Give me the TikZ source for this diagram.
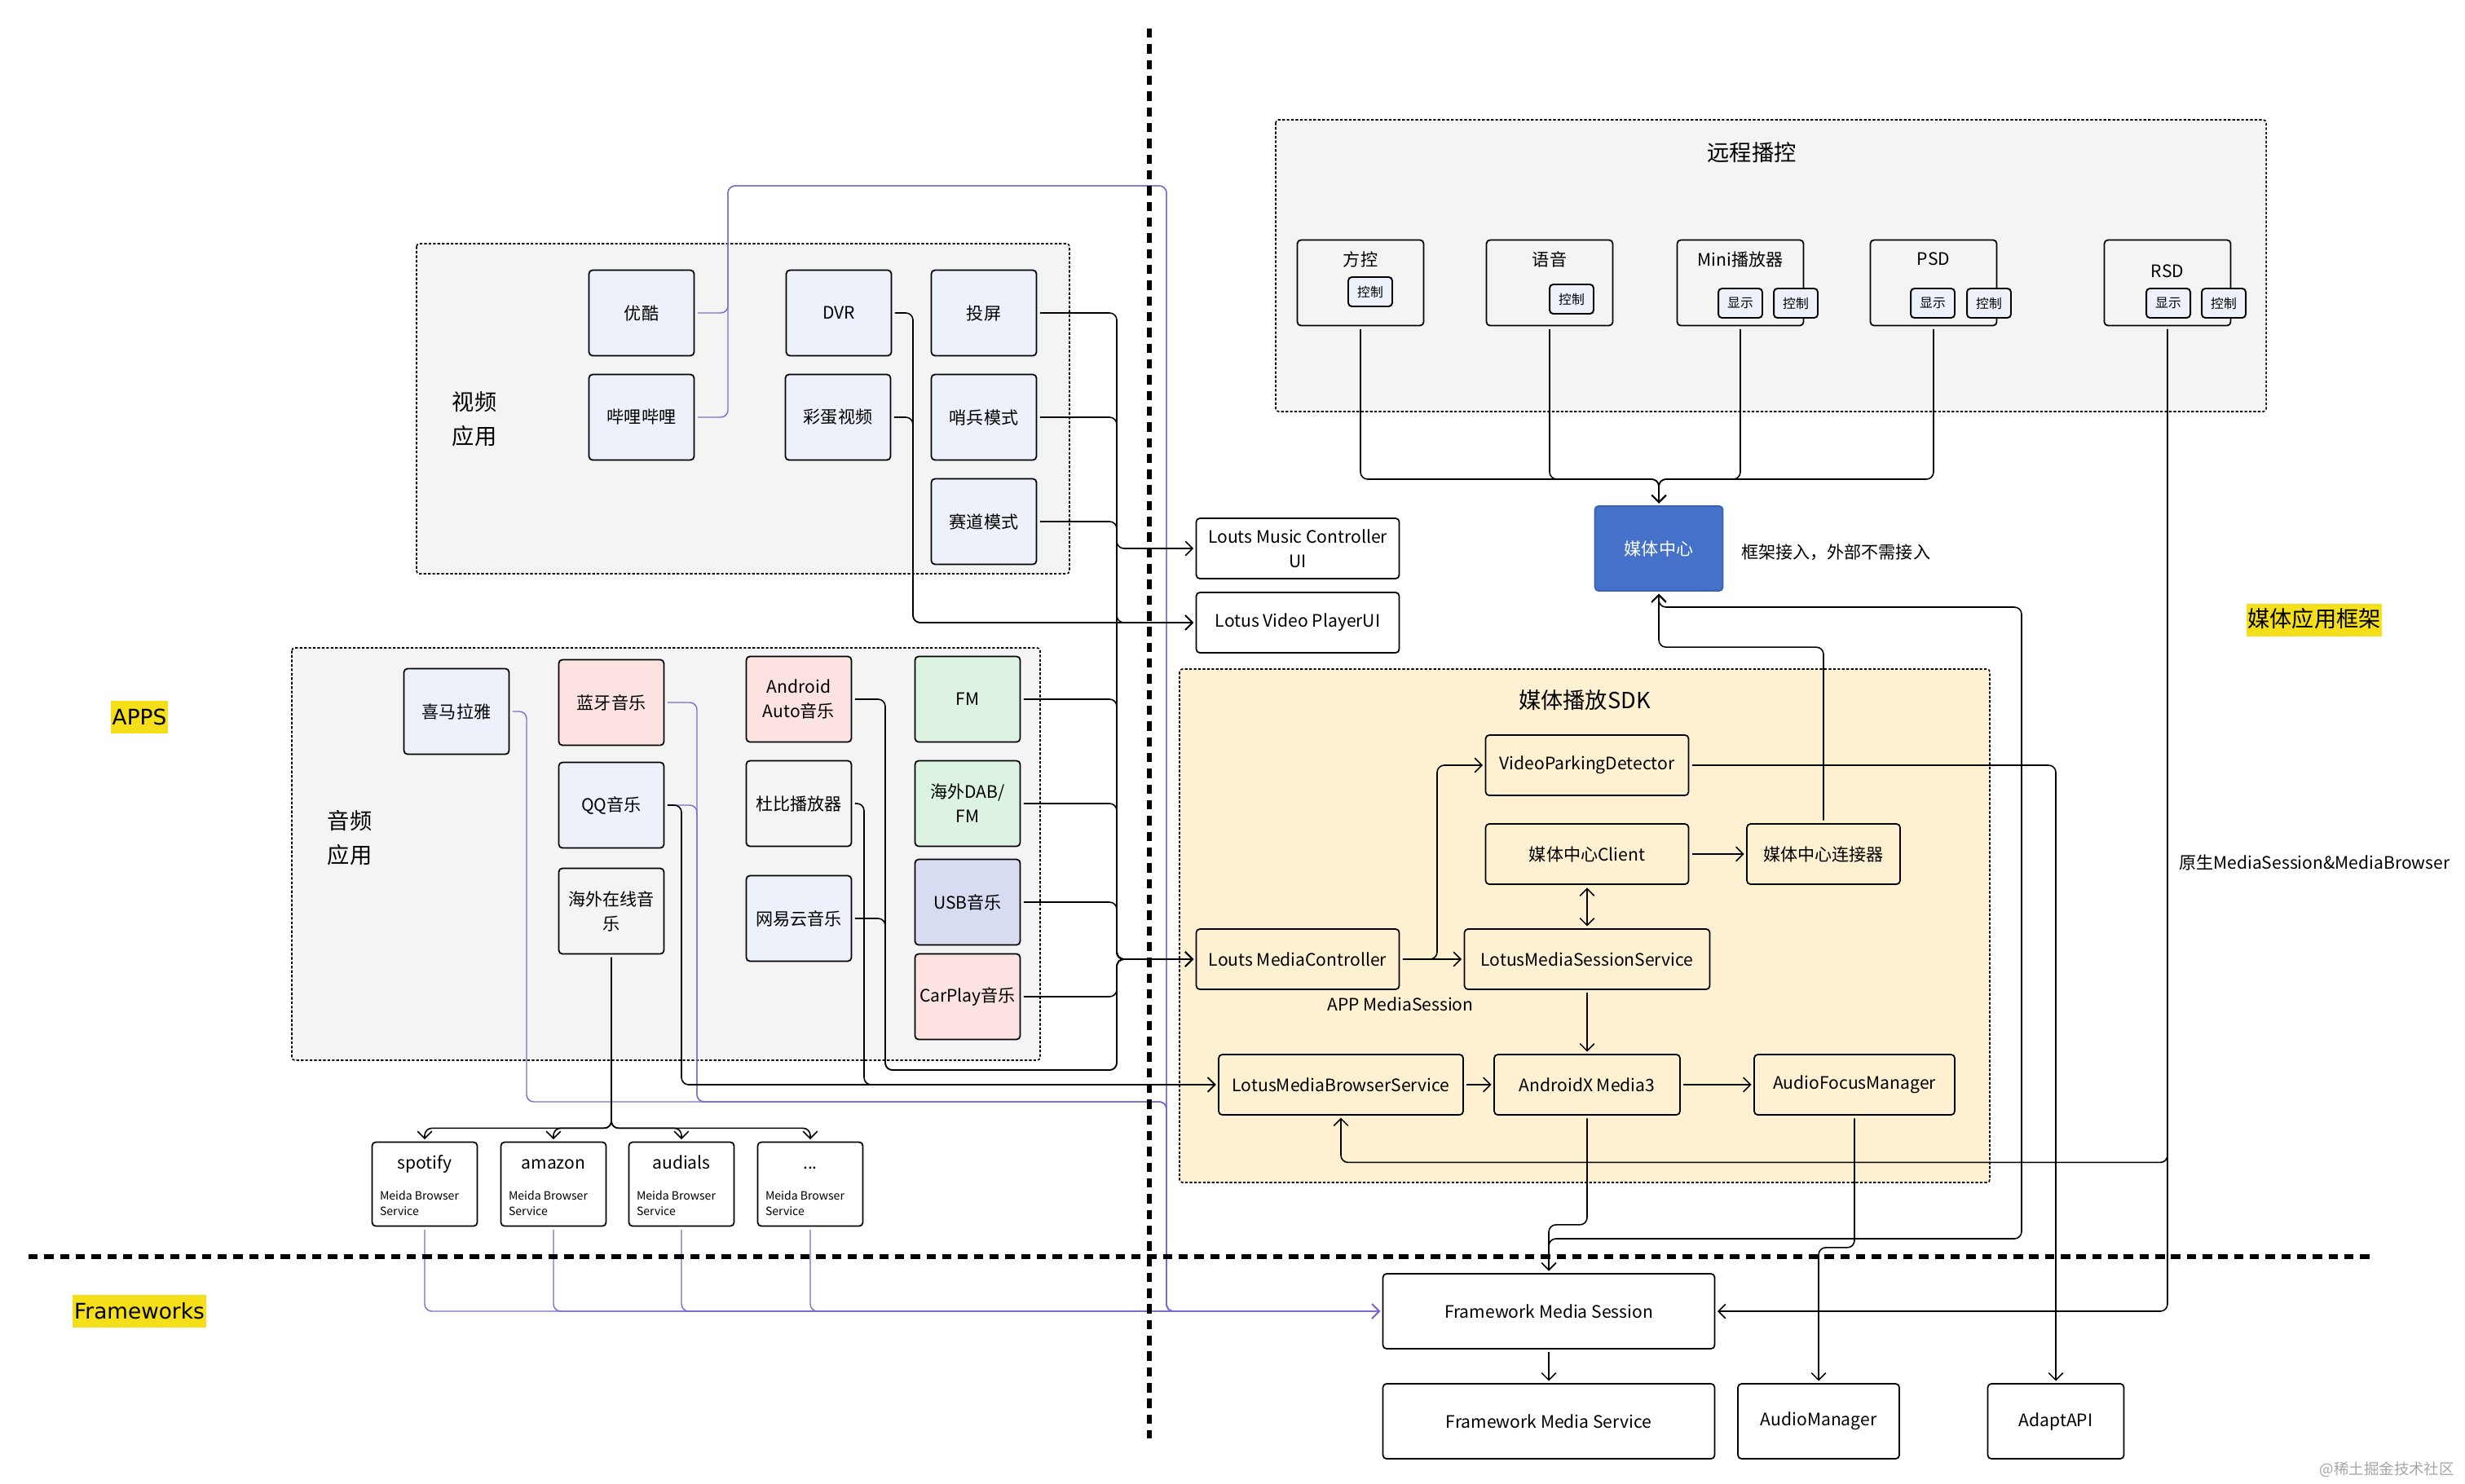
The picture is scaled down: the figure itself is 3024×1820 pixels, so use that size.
\documentclass[tikz,border=0pt]{standalone}
\usepackage{fontspec}
\setmainfont{Noto Sans CJK SC}
\newfontfamily\latinfont{DejaVu Sans}
\usepackage{xcolor}
\usetikzlibrary{arrows.meta}

\definecolor{groupgray}{RGB}{244,244,244}
\definecolor{sdkyellow}{RGB}{253,241,209}
\definecolor{appblue}{RGB}{237,241,250}
\definecolor{apppink}{RGB}{253,226,226}
\definecolor{appgreen}{RGB}{221,243,225}
\definecolor{applilac}{RGB}{215,220,242}
\definecolor{hubblue}{RGB}{69,114,200}
\definecolor{linkpurple}{RGB}{124,106,206}
\definecolor{markyellow}{RGB}{244,223,24}

\newcommand{\svclabel}[1]{\parbox{2.2cm}{\centering\strut #1\par\vspace{9pt}\raggedright\fontsize{8}{11}\selectfont Meida Browser\\Service\par}}

\tikzset{
  >={Straight Barb[length=5pt,width=10pt]},
  box/.style={draw, line width=1pt, rounded corners=2.5pt, inner sep=0pt, align=center,
    font=\fontsize{12}{17}\selectfont},
  appbox/.style={box, minimum width=2.58cm, minimum height=2.1cm},
  rembox/.style={box, fill=groupgray, minimum width=3.1cm, minimum height=2.1cm},
  keybox/.style={box, fill=appblue, line width=1.1pt, minimum width=1.08cm,
    minimum height=0.72cm, font=\fontsize{9}{11}\selectfont},
  svcbox/.style={box, fill=white, minimum width=2.58cm, minimum height=2.06cm},
  uibox/.style={box, fill=white, minimum width=4.98cm, minimum height=1.48cm},
  sdkbox/.style={box, minimum height=1.48cm},
  fwbox/.style={box, fill=white, minimum height=1.84cm},
  hubbox/.style={box, draw=hubblue!85!black, fill=hubblue, text=white,
    minimum width=3.14cm, minimum height=2.08cm},
  group/.style={draw, line width=0.9pt, dash pattern=on 1.8pt off 1.3pt, rounded corners=2pt},
  grouptitle/.style={align=center, font=\fontsize{15.5}{24}\selectfont},
  note/.style={font=\fontsize{12}{17}\selectfont},
  marker/.style={fill=markyellow, inner xsep=1pt, inner ysep=5.5pt, text height=11.5pt,
    text depth=0.5pt, font=\latinfont\fontsize{15}{18}\selectfont},
  wire/.style={->, line width=0.9pt, rounded corners=5pt, shorten >=1.5pt, shorten <=2pt},
  pwire/.style={wire, draw=linkpurple, line width=0.8pt},
  divider/.style={line width=3.4pt, dash pattern=on 6.5pt off 4.5pt}
}

\begin{document}
\begin{tikzpicture}[x=0.02cm, y=-0.02cm]
    \useasboundingbox (0,0) rectangle (3024,1820);
    \fill [white] (0,0) rectangle (3024,1820);

    \draw [group, fill=groupgray] (511,299) rectangle (1312,704);
    \draw [group, fill=groupgray] (358,795) rectangle (1276,1301);
    \draw [group, fill=groupgray] (1565,147) rectangle (2780,505);
    \draw [group, fill=sdkyellow] (1447,821) rectangle (2441,1451);

    \path (582,514) node [grouptitle] (videot) {视频\\应用};
    \path (429,1028) node [grouptitle] (audiot) {音频\\应用};
    \path (2149,187) node [grouptitle] (remotet) {远程播控};
    \path (1944,859) node [grouptitle] (sdkt) {媒体播放SDK};

    \path (787,384) node [appbox, fill=appblue] (yk) {优酷};
    \path (787,512) node [appbox, fill=appblue] (bz) {哔哩哔哩};
    \path (1029,384) node [appbox, fill=appblue] (dvr) {DVR};
    \path (1028,512) node [appbox, fill=appblue] (cd) {彩蛋视频};
    \path (1207,384) node [appbox, fill=appblue] (tp) {投屏};
    \path (1207,512) node [appbox, fill=appblue] (sb) {哨兵模式};
    \path (1207,640) node [appbox, fill=appblue] (sd) {赛道模式};

    \path (560,873) node [appbox, fill=appblue] (xm) {喜马拉雅};
    \path (750,862) node [appbox, fill=apppink] (ly) {蓝牙音乐};
    \path (750,988) node [appbox, fill=appblue] (qq) {QQ音乐};
    \path (750,1118) node [appbox] (hw) {海外在线音\\乐};
    \path (980,858) node [appbox, fill=apppink] (aa) {Android\\Auto音乐};
    \path (980,986) node [appbox] (db) {杜比播放器};
    \path (980,1127) node [appbox, fill=appblue] (wy) {网易云音乐};
    \path (1187,858) node [appbox, fill=appgreen] (fm) {FM};
    \path (1187,986) node [appbox, fill=appgreen] (dab) {海外DAB/\\FM};
    \path (1187,1107) node [appbox, fill=applilac] (usb) {USB音乐};
    \path (1187,1223) node [appbox, fill=apppink] (cp) {CarPlay音乐};

    \path (521,1453) node [svcbox] (spo) {\svclabel{spotify}};
    \path (679,1453) node [svcbox] (amz) {\svclabel{amazon}};
    \path (836,1453) node [svcbox] (aud) {\svclabel{audials}};
    \path (994,1453) node [svcbox] (etc) {\svclabel{...}};

    \path (1669,347) node [rembox] (fk) {};
    \path (1669,318) node [note] (fkt) {方控};
    \path (1681,358) node [keybox] (fkc) {控制};
    \path (1901,347) node [rembox] (yy) {};
    \path (1901,318) node [note] (yyt) {语音};
    \path (1928,367) node [keybox] (yyc) {控制};
    \path (2135,347) node [rembox] (mini) {};
    \path (2135,318) node [note] (minit) {Mini播放器};
    \path (2135,372) node [keybox] (minis) {显示};
    \path (2203,372) node [keybox] (minic) {控制};
    \path (2372,347) node [rembox] (psd) {};
    \path (2372,318) node [note] (psdt) {PSD};
    \path (2371,372) node [keybox] (psds) {显示};
    \path (2440,372) node [keybox] (psdc) {控制};
    \path (2659,347) node [rembox] (rsd) {};
    \path (2659,333) node [note] (rsdt) {RSD};
    \path (2660,372) node [keybox] (rsds) {显示};
    \path (2728,372) node [keybox] (rsdc) {控制};

    \path (1592,673) node [uibox] (mcui) {Louts Music Controller\\UI};
    \path (1592,764) node [uibox] (vpui) {Lotus Video PlayerUI};
    \path (2035,673) node [hubbox] (mc) {媒体中心};
    \path (2130,678) node [note, anchor=west] (mcnote) {框架接入，外部不需接入};

    \path (1947,939) node [sdkbox, minimum width=4.98cm] (vpd) {VideoParkingDetector};
    \path (1947,1048) node [sdkbox, minimum width=4.98cm] (mcl) {媒体中心Client};
    \path (2237,1048) node [sdkbox, minimum width=3.76cm] (mcc) {媒体中心连接器};
    \path (1592,1177) node [sdkbox, minimum width=4.98cm] (lmc) {Louts MediaController};
    \path (1947,1177) node [sdkbox, minimum width=6.02cm] (lmss) {LotusMediaSessionService};
    \path (1718,1232) node [note] (appms) {APP MediaSession};
    \path (1645,1331) node [sdkbox, minimum width=6cm] (lmbs) {LotusMediaBrowserService};
    \path (1947,1331) node [sdkbox, minimum width=4.56cm] (m3) {AndroidX Media3};
    \path (2275,1331) node [sdkbox, minimum width=4.92cm] (afm) {AudioFocusManager};

    \path (1900,1609) node [fwbox, minimum width=8.14cm] (fms) {Framework Media Session};
    \path (1900,1744) node [fwbox, minimum width=8.14cm] (fmsvc) {Framework Media Service};
    \path (2231,1744) node [fwbox, minimum width=3.96cm] (amgr) {AudioManager};
    \path (2522,1744) node [fwbox, minimum width=3.34cm] (adapt) {AdaptAPI};

    \path (171,880) node [marker] (apps) {APPS};
    \path (171,1609) node [marker] (fwk) {Frameworks};
    \path (2839,761) node [marker, text height=12.5pt, text depth=2.5pt, inner ysep=4pt,
        font=\fontsize{15.5}{18}\selectfont] (frame) {媒体应用框架};
    \path (2667,1058) node [note, anchor=west] (native) {原生MediaSession\&MediaBrowser};
    \path (3017,1803) node [anchor=east, text=black!35, font=\fontsize{10.5}{12}\selectfont] (jj) {@稀土掘金技术社区};

    \coordinate (bus) at (1370,600);

    \draw [pwire] (yk.east) -| (893,228) -| (1431,1609) -- (fms.west);
    \draw [pwire] (bz.east) -| (893,228) -| (1431,1609) -- (fms.west);
    \draw [pwire] (xm.east) -| (646,1352) -| (1431,1609) -- (fms.west);
    \draw [pwire] (ly.east) -| (855,1352) -| (1431,1609) -- (fms.west);
    \draw [pwire] (qq.east) -| (855,1352) -| (1431,1609) -- (fms.west);
    \draw [pwire] (spo.south) |- (fms.west);
    \draw [pwire] (amz.south) |- (fms.west);
    \draw [pwire] (aud.south) |- (fms.west);
    \draw [pwire] (etc.south) |- (fms.west);

    \draw [wire] (tp.east) -| (1370,1177) -- (lmc.west);
    \draw [wire] (sb.east) -| (1370,1177) -- (lmc.west);
    \draw [wire] (sd.east) -| (1370,1177) -- (lmc.west);
    \draw [wire] (bus) |- (mcui.west);
    \draw [wire] (bus) |- (vpui.west);
    \draw [wire] (dvr.east) -| (1120,764) -- (vpui.west);
    \draw [wire] (cd.east) -| (1120,764) -- (vpui.west);
    \draw [wire] (fm.east) -| (1370,1177) -- (lmc.west);
    \draw [wire] (dab.east) -| (1370,1177) -- (lmc.west);
    \draw [wire] (usb.east) -| (1370,1177) -- (lmc.west);
    \draw [wire] (cp.east) -| (1370,1177) -- (lmc.west);
    \draw [wire] (aa.east) -| (1086,1313) -| (1370,1177) -- (lmc.west);
    \draw [wire] (wy.east) -| (1086,1313) -| (1370,1177) -- (lmc.west);
    \draw [wire] (db.east) -| (1060,1331) -- (lmbs.west);
    \draw [wire] (qq.east) -| (836,1331) -- (lmbs.west);
    \draw [wire] (hw.south) -- ++(0,213) -| (spo.north);
    \draw [wire] (hw.south) -- ++(0,213) -| (amz.north);
    \draw [wire] (hw.south) -- ++(0,213) -| (aud.north);
    \draw [wire] (hw.south) -- ++(0,213) -| (etc.north);

    \draw [wire] (fk.south) |- (2035,588) -- (mc.north);
    \draw [wire] (yy.south) |- (2035,588) -- (mc.north);
    \draw [wire] (mini.south) |- (2035,588) -- (mc.north);
    \draw [wire] (psd.south) |- (2035,588) -- (mc.north);

    \draw [wire] (lmc.east) -- (lmss.west);
    \draw [wire] (lmc.east) -| (1763,939) -- (vpd.west);
    \draw [wire, <->] (mcl.south) -- (lmss.north);
    \draw [wire] (mcl.east) -- (mcc.west);
    \draw [wire] (mcc.north) -- ++(0,-216) -| (mc.south);
    \draw [wire, <->] (mc.south) |- (2480,745) |- (1900,1520) -- (fms.north);
    \draw [wire] (lmss.south) -- (m3.north);
    \draw [wire] (lmbs.east) -- (m3.west);
    \draw [wire] (m3.east) -- (afm.west);
    \draw [wire] (m3.south) -- ++(0,134) -| (fms.north);
    \draw [wire] (afm.south) -- ++(0,162) -| (amgr.north);
    \draw [wire] (vpd.east) -| (adapt.north);
    \draw [wire] (rsd.south) |- (fms.east);
    \draw [wire] (rsd.south) -- ++(0,1026) -| (lmbs.south);
    \draw [wire] (fms.south) -- (fmsvc.north);

    \draw [divider] (1410,35) -- (1410,1765);
    \draw [divider] (35,1542) -- (2912,1542);
\end{tikzpicture}
\end{document}
